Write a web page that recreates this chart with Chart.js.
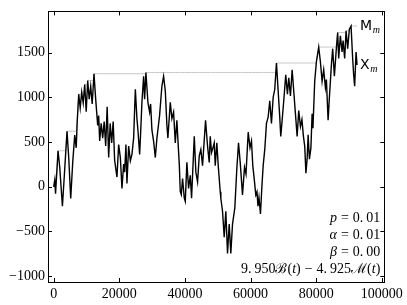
<!DOCTYPE html>
<html><head><meta charset="utf-8">
<script src="https://cdn.jsdelivr.net/npm/chart.js@4.4.1/dist/chart.umd.min.js"></script>
<style>html,body{margin:0;padding:0;background:#fff}#wrap{width:407px;height:305px}</style>
</head><body><div id="wrap"><canvas id="c" width="407" height="305"></canvas></div>
<script>
const steps = [
0,304,548,1309,1826,2648,3196,4049,4566,5175,5784,6393,6849,7153,7610,8067,8523,8980,9436,9893,10350,10806,11263,11719,12267,12785,13394,13698,14002,14459,14916,15372,15829,16285,16742,17198,17655,18112,18568,
19269,19786,20304,20791,21308,21612,22008,22313,22830,23347,23835,24352,24869,25357,25661,26178,26483,26879,27396,27700,28096,28705,29222,29527,29923,30440,30958,31445,32264,32966,33484,34001,34488,34793,35523,36010,36528,37045,37532,37898,38263,
38567,38872,39268,39785,40090,40577,41094,41612,42007,42829,43316,43834,44351,44838,45356,46269,46878,47395,47700,48095,48400,48917,49222,49709,50135,50744,50927,51444,51962,52449,52966,53483,53970,54488,55188,55797,56314,56832,57532,
58141,58597,59267,59815,60271,60667,61093,61580,61946,62250,62555,63011,63407,63833,64320,64837,65355,65842,66359,66877,67364,67881,68399,68886,69190,69617,70104,70713,71230,71626,72143,72661,73148,73665,74183,74670,75187,75644,76100,76496,76862,77227,
77531,77927,78384,78749,78993,79541,80058,80758,81275,81793,82280,82797,83102,83619,84014,84623,85019,85537,86054,86541,86846,87363,87881,88185,88672,89098,89585,90102,90620,91107,91411,91716,92142,92446
];
const walk = [
0,76,-76,403,218,-218,109,622,327,-131,273,578,436,731,1036,883,1058,938,1145,840,1189,981,1123,927,1265,981,687,796,513,709,545,731,458,894,327,709,491,731,294,
109,472,327,-19,254,164,472,36,455,291,363,545,1091,763,636,363,600,945,1236,981,1279,945,836,927,636,509,327,545,799,1127,1236,1072,690,545,945,763,836,491,745,491,254,
-55,-87,91,-128,-164,273,-19,128,-128,564,164,55,346,418,237,745,455,273,564,382,418,491,237,491,237,-55,-128,-273,-564,-273,-745,-418,-745,-418,-237,200,491,273,-91,
218,142,611,436,513,237,91,-91,-55,-218,-120,-305,-19,237,418,709,782,963,709,1000,1091,1385,1072,782,564,745,963,1254,1036,1218,1017,1309,1072,818,564,854,673,752,564,455,153,309,
581,309,436,818,654,1181,1399,1563,1399,1181,1309,1109,1200,745,1000,1363,1545,1236,1508,1726,1436,1690,1508,1636,1436,1745,1545,1763,1799,1436,1254,1126,1508,1363
];
const xTicks = [0,20000,40000,60000,80000,100000];
const yTicks = [-1000,-500,0,500,1000,1500];
// [text, style(i=italic, r=roman), gap before in px]
const annotations = [
  [['p','i',0],['=','r',4],['0.','r',4],['01','r',3]],
  [['α','i',0],['=','r',4],['0.','r',4],['01','r',3]],
  [['β','i',0],['=','r',4],['0.','r',4],['00','r',3]],
  [['9.','r',0],['950','r',3],['ℬ','r',0],['(','r',0],['t','i',0],[')','r',0],['−','r',4],['4.','r',4],['925','r',3],['ℳ','r',0],['(','r',0],['t','i',0],[')','r',0]]
];

const walkPts = steps.map((s,i)=>({x:s,y:walk[i]}));
// running maximum M_m of the walk (with exact crossing points)
const maxPts = [{x:steps[0],y:walk[0]}];
let m = walk[0];
for (let i=1;i<steps.length;i++){
  if (walk[i] > m){
    const t = (m - walk[i-1])/(walk[i]-walk[i-1]);
    if (t>0 && t<1) maxPts.push({x:steps[i-1]+t*(steps[i]-steps[i-1]), y:m});
    m = walk[i];
  }
  maxPts.push({x:steps[i], y:m});
}

const SERIF = '"Liberation Serif", "DejaVu Serif", serif';
const fmt = v => v<0 ? '\u2212'+Math.abs(v) : String(v);

const decor = {
  id:'decor',
  afterDraw(chart){
    const {ctx, chartArea:a, scales:{x,y}} = chart;
    ctx.save();
    ctx.strokeStyle='#000'; ctx.lineWidth=1;
    ctx.strokeRect(Math.round(a.left)+0.5, Math.round(a.top)+0.5, Math.round(a.right-a.left), Math.round(a.bottom-a.top));
    ctx.beginPath();
    const L=4;
    xTicks.forEach(v=>{const px=Math.round(x.getPixelForValue(v))+0.5;
      ctx.moveTo(px,a.bottom); ctx.lineTo(px,a.bottom-L);
      ctx.moveTo(px,a.top); ctx.lineTo(px,a.top+L);});
    yTicks.forEach(v=>{const py=Math.round(y.getPixelForValue(v))+0.5;
      ctx.moveTo(a.left,py); ctx.lineTo(a.left+L,py);
      ctx.moveTo(a.right,py); ctx.lineTo(a.right-L,py);});
    ctx.stroke();
    // end labels
    const lastX = x.getPixelForValue(steps[steps.length-1]) + 3;
    const lab = (big, py) => {
      ctx.fillStyle='#000'; ctx.textBaseline='middle'; ctx.textAlign='left';
      ctx.font='14px "DejaVu Sans", sans-serif';
      ctx.fillText(big, lastX, py);
      const w = ctx.measureText(big).width;
      ctx.font='italic 10px '+SERIF;
      ctx.fillText('m', lastX+w+0.5, py+4);
    };
    lab('M', y.getPixelForValue(m));
    lab('X', y.getPixelForValue(walk[walk.length-1]));
    // annotation block
    const rx = a.right - 4;
    const ys = [218, 235, 252, 269];
    annotations.forEach((parts, k)=>{
      const fonts = parts.map(p=> (p[1]==='i'?'italic ':'')+'14px '+SERIF);
      let tot=0; const ws=[];
      parts.forEach((p,j)=>{ctx.font=fonts[j]; const w=ctx.measureText(p[0]).width; ws.push(w); tot+=w+p[2];});
      let cx = rx - tot;
      ctx.textAlign='left'; ctx.textBaseline='middle'; ctx.fillStyle='#000';
      parts.forEach((p,j)=>{cx+=p[2]; ctx.font=fonts[j]; ctx.fillText(p[0], cx, ys[k]); cx+=ws[j];});
    });
    ctx.restore();
  }
};

new Chart(document.getElementById('c'), {
  type:'line',
  data:{datasets:[
    {data:walkPts, borderColor:'#000', borderWidth:1.4, pointRadius:0, tension:0},
    {data:maxPts, borderColor:'#c4c4c4', borderWidth:1, pointRadius:0, tension:0}
  ]},
  options:{
    responsive:false, animation:false, events:[],
    layout:{padding:{top:5,right:22,left:0,bottom:0}},
    plugins:{legend:{display:false}, tooltip:{enabled:false}},
    scales:{
      x:{type:'linear', min:-1750, max:100750,
        afterBuildTicks:s=>{s.ticks=xTicks.map(v=>({value:v}));},
        afterFit:s=>{s.height=23;},
        grid:{display:false, drawTicks:false}, border:{display:false},
        ticks:{padding:4, color:'#000', font:{family:SERIF, size:14}, maxRotation:0, autoSkip:false, callback:fmt}},
      y:{type:'linear', min:-1065, max:1962,
        afterBuildTicks:s=>{s.ticks=yTicks.map(v=>({value:v}));},
        afterFit:s=>{s.width=48;},
        grid:{display:false, drawTicks:false}, border:{display:false},
        ticks:{padding:3, color:'#000', font:{family:SERIF, size:14}, autoSkip:false, callback:fmt}}
    }
  },
  plugins:[decor]
});
</script></body></html>
